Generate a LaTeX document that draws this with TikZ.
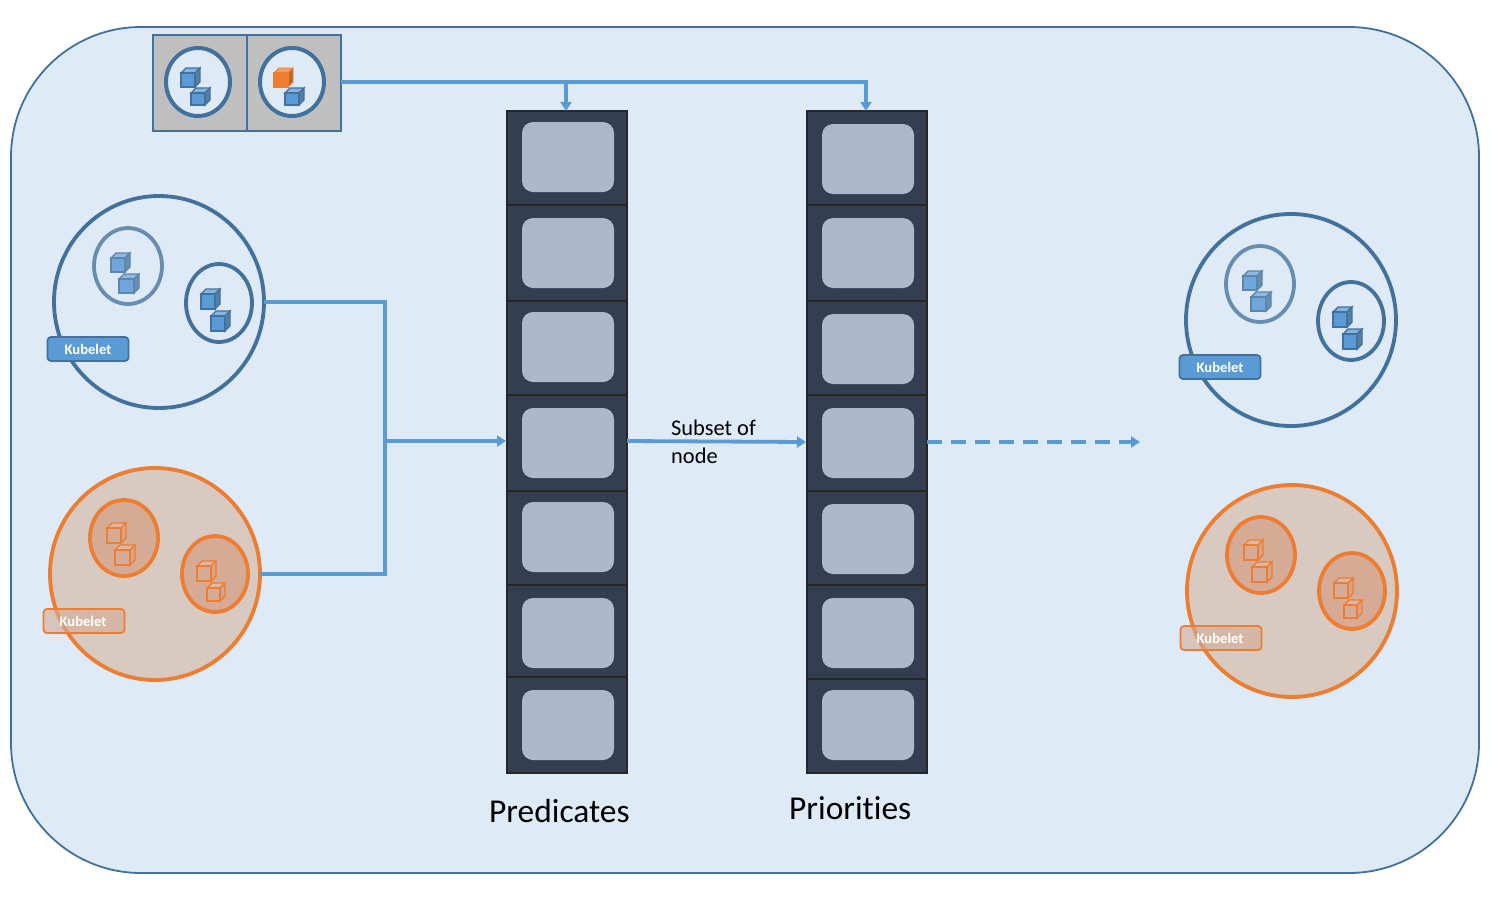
\documentclass[tikz,border=0pt]{standalone}
\usepackage{fontspec}
\setmainfont[Ligatures=NoCommon,Contextuals=NoAlternate]{Carlito}
\usetikzlibrary{arrows.meta,shapes.geometric}
\definecolor{panel}{HTML}{DEEAF6}
\definecolor{edge}{HTML}{41719C}
\definecolor{flowblue}{HTML}{5B9BD5}
\definecolor{orange}{HTML}{ED7D31}
\definecolor{peach}{HTML}{D9CAC1}
\definecolor{peachin}{HTML}{D5AB95}
\definecolor{slate}{HTML}{333F50}
\definecolor{slot}{HTML}{ADB9CA}
\tikzset{
  flow/.style={draw=flowblue,line width=3.8pt},
  tip/.style={-{Triangle[length=9pt,width=11pt]}},
  cellbox/.style={draw=black!85,fill=slate,line width=1.6pt,minimum width=120pt,inner sep=0pt,outer sep=0pt},
  slotbox/.style={fill=slot,rounded corners=11pt,minimum width=92pt,minimum height=70pt,inner sep=0pt,outer sep=0pt},
  traybox/.style={draw=edge,fill=black!25,line width=1.8pt,minimum width=94pt,minimum height=96pt,inner sep=0pt,outer sep=0pt},
  podring/.style={ellipse,draw=edge,fill=panel,line width=4pt,minimum width=64pt,minimum height=68pt,inner sep=0pt,outer sep=0pt},
  bigblue/.style={ellipse,draw=edge,line width=3.8pt,minimum width=210pt,minimum height=212pt,inner sep=0pt,outer sep=0pt},
  bigorange/.style={ellipse,draw=orange,fill=peach,line width=3.8pt,minimum width=210pt,minimum height=212pt,inner sep=0pt,outer sep=0pt},
  podblue/.style={ellipse,draw=edge,line width=3.8pt,inner sep=0pt,outer sep=0pt},
  podfade/.style={ellipse,draw=edge!80!white,line width=3.8pt,inner sep=0pt,outer sep=0pt},
  podorange/.style={ellipse,draw=orange,fill=peachin,line width=3.8pt,inner sep=0pt,outer sep=0pt},
  kubeblue/.style={draw=edge,fill=flowblue,line width=1.8pt,rounded corners=3.5pt,minimum width=81pt,minimum height=24pt,inner sep=0pt,outer sep=0pt,text=white,font=\fontsize{14.6}{16}\selectfont\bfseries},
  kubeorange/.style={draw=orange,fill=peachin,fill opacity=.6,text opacity=1,line width=1.8pt,rounded corners=3.5pt,minimum width=81pt,minimum height=24pt,inner sep=0pt,outer sep=0pt,text=white,font=\fontsize{14.6}{16}\selectfont\bfseries},
  bfront/.style={draw=edge,fill=flowblue,line width=2.4pt},
  btop/.style={draw=edge,fill=flowblue!75!white,line width=1.4pt},
  bside/.style={draw=edge,fill=edge!90!white,line width=1.4pt},
  lfront/.style={draw=edge!85!white,fill=flowblue!88!white,line width=2.4pt},
  ltop/.style={draw=edge!85!white,fill=flowblue!70!white,line width=1.4pt},
  lside/.style={draw=edge!85!white,fill=edge!80!white,line width=1.4pt},
  ofront/.style={draw=orange,fill=peachin,line width=2.4pt},
  otop/.style={draw=orange,fill=peachin!85!white,line width=1.4pt},
  oside/.style={draw=orange,fill=peachin!85!orange,line width=1.4pt},
  sfront/.style={draw=orange,fill=orange,line width=1.2pt},
  stop/.style={draw=orange,fill=orange!75!white,line width=.8pt},
  sside/.style={draw=orange,fill=orange!80!black,line width=.8pt},
  column label/.style={font=\fontsize{33.4}{36}\selectfont,anchor=base west,inner sep=0pt},
  side label/.style={font=\fontsize{22.4}{24}\selectfont,anchor=base west,inner sep=0pt},
}
% x y w h kind
\newcommand\kube[5]{%
  \draw[#5top] (#1,#2) -- ({#1+5},{#2-5}) -- ({#1+#3+5},{#2-5}) -- ({#1+#3},#2) -- cycle;
  \draw[#5side] ({#1+#3},#2) -- ({#1+#3+5},{#2-5}) -- ({#1+#3+5},{#2+#4-5}) -- ({#1+#3},{#2+#4}) -- cycle;
  \draw[#5front] (#1,#2) rectangle ({#1+#3},{#2+#4});
}
\newcommand\bluegroup[1]{%
  \node[bigblue] (#1big) at (159,302) {};
  \node[podfade,minimum width=68pt,minimum height=76pt] (#1a) at (128,266) {};
  \node[podblue,minimum width=66pt,minimum height=78pt] (#1b) at (219,303) {};
  \kube{111}{258}{14}{14}{l}
  \kube{119}{279}{15}{14}{l}
  \kube{201}{294}{14}{15}{b}
  \kube{211}{316}{14}{15}{b}
  \node[kubeblue] (#1k) at (88,349) {Kubelet};
}
\newcommand\orangegroup[1]{%
  \node[bigorange] (#1big) at (155,574) {};
  \node[podorange,minimum width=68pt,minimum height=76pt] (#1a) at (124,538) {};
  \node[podorange,minimum width=66pt,minimum height=76pt] (#1b) at (215,574) {};
  \kube{107}{528}{14}{15}{o}
  \kube{115}{550}{15}{15}{o}
  \kube{197}{566}{14}{15}{o}
  \kube{207}{588}{13}{13}{o}
  \node[kubeorange] (#1k) at (84,621) {\phantom{Kubelet}};
  \node[text=white,font=\fontsize{14.6}{16}\selectfont\bfseries,inner sep=0pt] (#1t) at (83,621) {Kubelet};
}
\begin{document}
\begin{tikzpicture}[x=1pt,y=-1pt]
\useasboundingbox (0,0) rectangle (1500,900);
\fill[white] (0,0) rectangle (1500,900);
\draw[draw=edge,fill=panel,line width=1.8pt,rounded corners=130pt] (11,27) rectangle (1479,873);

% tray
\node[traybox] (tray1) at (200,83) {};
\node[traybox] (tray2) at (294,83) {};
\node[podring] (ring1) at (198,82) {};
\node[podring] (ring2) at (292,82) {};
\kube{181}{73}{14}{14}{b}
\kube{191}{93}{14}{12}{b}
\kube{274}{73}{14}{14}{s}
\kube{285}{93}{14}{12}{b}

% columns
\foreach \n/\top/\bot in {1/111/205,2/205/301,3/301/395,4/395/491,5/491/585,6/585/677,7/677/773}{
  \node[cellbox,minimum height={\bot-\top}] (P\n) at (567,{(\top+\bot)/2}) {};
}
\foreach \n/\c in {1/157,2/253,3/347,4/443,5/537,6/633,7/725}{
  \node[slotbox] (Ps\n) at (568,\c) {};
}
\foreach \n/\top/\bot in {1/111/205,2/205/301,3/301/395,4/395/491,5/491/585,6/585/679,7/679/773}{
  \node[cellbox,minimum height={\bot-\top}] (R\n) at (867,{(\top+\bot)/2}) {};
}
\foreach \n/\c in {1/159,2/253,3/349,4/443,5/539,6/633,7/725}{
  \node[slotbox] (Rs\n) at (868,\c) {};
}

% hosts
\bluegroup{L}
\orangegroup{M}
\begin{scope}[shift={(1132,18)}]
\bluegroup{T}
\end{scope}
\begin{scope}[shift={(1137,17)}]
\orangegroup{U}
\end{scope}

% connectors
\coordinate (bus) at (385,441);
\coordinate (dashend) at (1140,442);
\draw[flow,tip] ([yshift=1pt]tray2.east) -| ([xshift=-1pt]R1.north);
\draw[flow,tip] ([xshift=-1pt,yshift=1pt]tray2.east -| P1.north) -- ([xshift=-1pt]P1.north);
\draw[flow] (Lbig.east) -| (bus);
\draw[flow] (Mbig.east) -| (bus);
\draw[flow,tip] (bus) -- ([xshift=-1pt]bus -| P4.west);
\draw[flow,tip] ([yshift=2pt]P4.east) -- ([xshift=-1pt,yshift=1pt]R4.west);
\draw[flow,tip,dash pattern=on 15pt off 9pt] ([yshift=1pt]R4.east) -- (dashend);

% labels
\node[side label] (s1) at (671,435) {Subset of};
\node[side label] (s2) at (671,463) {node};
\node[column label] (c1) at (489,822) {Predicates};
\node[column label] (c2) at (789,819) {Priorities};
\end{tikzpicture}
\end{document}
